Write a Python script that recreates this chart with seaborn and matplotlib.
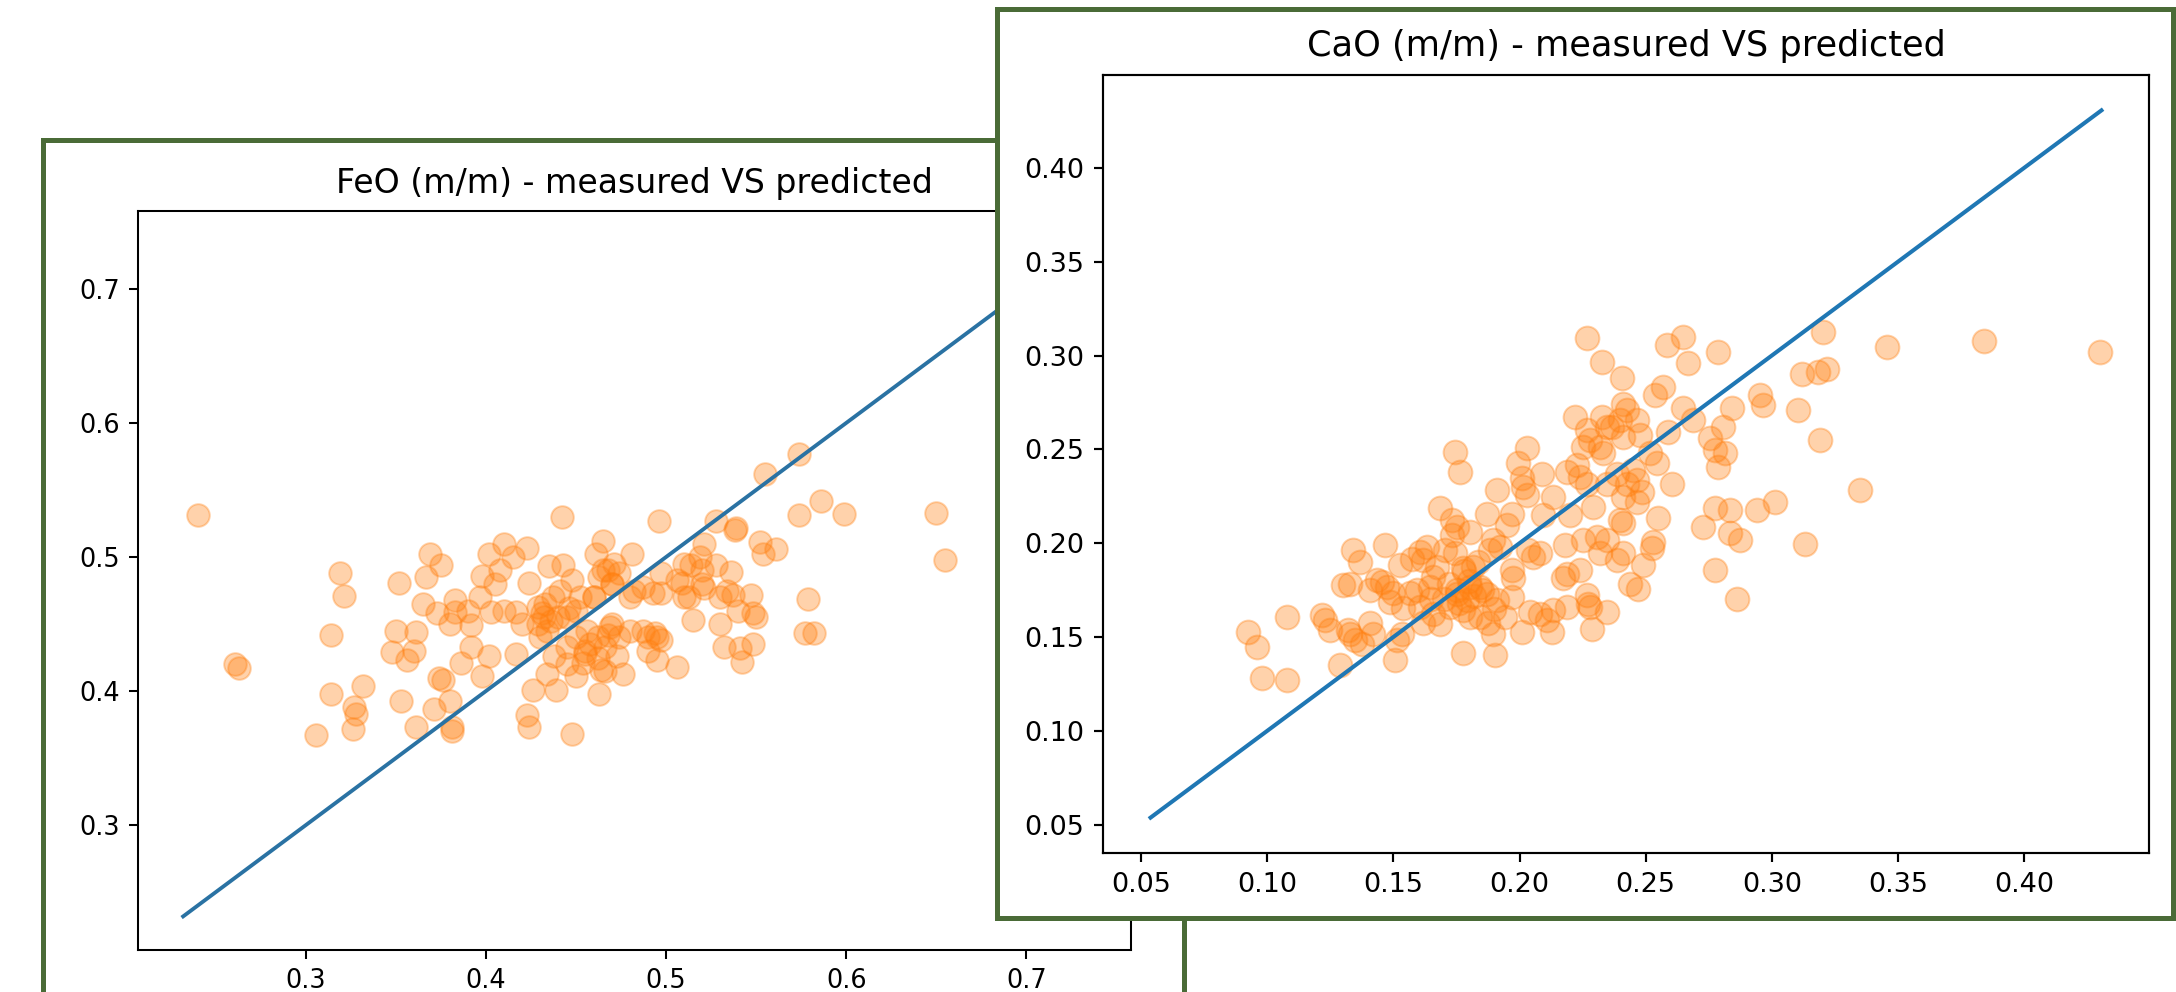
import numpy as np
import matplotlib
matplotlib.use("Agg")
import matplotlib.pyplot as plt
from matplotlib.patches import Rectangle
from matplotlib.ticker import MultipleLocator
import seaborn as sns

# FeO panel: measured vs predicted values
feo_measured = [
    0.240, 0.261, 0.263, 0.442,
    0.319, 0.321, 0.314, 0.314, 0.332, 0.327, 0.328, 0.326, 0.306,
    0.352, 0.353, 0.350, 0.348, 0.356, 0.361, 0.361,
    0.365, 0.369, 0.367, 0.375, 0.373, 0.383, 0.383,
    0.374, 0.376, 0.371, 0.380, 0.381, 0.381,
    0.392, 0.392, 0.386, 0.398, 0.397, 0.403, 0.402, 0.398,
    0.402, 0.410, 0.408, 0.415, 0.423, 0.417, 0.417, 0.424,
    0.434, 0.426, 0.423, 0.424, 0.435, 0.443,
    0.429, 0.432, 0.429, 0.434, 0.437, 0.441, 0.438, 0.439,
    0.448, 0.448, 0.445, 0.445, 0.450, 0.456, 0.458, 0.454,
    0.460, 0.463, 0.465, 0.461, 0.464, 0.463, 0.473, 0.476,
    0.471, 0.474, 0.481, 0.469, 0.474, 0.480, 0.482, 0.487, 0.487,
    0.431, 0.436, 0.462, 0.466, 0.468, 0.455, 0.470, 0.468, 0.452, 0.446,
    0.574, 0.555, 0.586, 0.574, 0.599, 0.650, 0.655,
    0.496, 0.528, 0.539, 0.538, 0.552, 0.561, 0.554,
    0.521, 0.519, 0.510, 0.528, 0.536, 0.497, 0.506,
    0.497, 0.493, 0.513, 0.521, 0.534, 0.537, 0.547,
    0.579, 0.577, 0.582, 0.548, 0.550, 0.515, 0.530,
    0.532, 0.541, 0.548, 0.542, 0.506, 0.495, 0.494, 0.497,
    # overlapping points in the dark centre of the cloud
    0.440, 0.450, 0.460, 0.470, 0.465, 0.455, 0.450, 0.445, 0.470, 0.480,
    0.490, 0.495, 0.490, 0.520, 0.520, 0.510, 0.530, 0.540, 0.430, 0.420,
    0.410, 0.405, 0.390, 0.380, 0.360, 0.466, 0.462, 0.433, 0.509, 0.514,
]
feo_predicted = [
    0.531, 0.420, 0.417, 0.530,
    0.488, 0.471, 0.442, 0.398, 0.404, 0.388, 0.383, 0.372, 0.367,
    0.481, 0.393, 0.445, 0.429, 0.423, 0.444, 0.373,
    0.465, 0.502, 0.485, 0.494, 0.458, 0.468, 0.459,
    0.410, 0.408, 0.387, 0.393, 0.373, 0.370,
    0.449, 0.433, 0.421, 0.486, 0.470, 0.459, 0.426, 0.411,
    0.502, 0.510, 0.490, 0.500, 0.507, 0.459, 0.428, 0.481,
    0.413, 0.401, 0.382, 0.373, 0.493, 0.494,
    0.463, 0.455, 0.450, 0.445, 0.470, 0.475, 0.426, 0.401,
    0.368, 0.483, 0.455, 0.433, 0.411, 0.445, 0.435, 0.421,
    0.470, 0.485, 0.512, 0.502, 0.416, 0.398, 0.426, 0.413,
    0.495, 0.488, 0.502, 0.448, 0.440, 0.445, 0.475, 0.478, 0.445,
    0.458, 0.452, 0.440, 0.433, 0.442, 0.428, 0.480, 0.490, 0.470, 0.462,
    0.577, 0.562, 0.542, 0.531, 0.532, 0.533, 0.498,
    0.527, 0.527, 0.522, 0.520, 0.511, 0.506, 0.502,
    0.510, 0.500, 0.495, 0.494, 0.489, 0.488, 0.483,
    0.473, 0.473, 0.470, 0.477, 0.475, 0.472, 0.472,
    0.469, 0.443, 0.443, 0.458, 0.455, 0.453, 0.450,
    0.433, 0.432, 0.435, 0.422, 0.418, 0.423, 0.443, 0.438,
    0.455, 0.460, 0.470, 0.480, 0.490, 0.430, 0.440, 0.420, 0.450, 0.470,
    0.440, 0.440, 0.430, 0.480, 0.490, 0.470, 0.470, 0.460, 0.440, 0.450,
    0.460, 0.480, 0.460, 0.450, 0.430, 0.415, 0.425, 0.465, 0.481, 0.494,
]
feo_line = [0.232, 0.733]

# CaO panel
cao_measured = [
    0.0925, 0.0958, 0.0978, 0.1077, 0.1077, 0.1215, 0.1229, 0.1249, 0.1288, 0.1301, 0.1328,
    0.1341, 0.1368, 0.1321, 0.1328, 0.1348, 0.1374, 0.1407, 0.1434, 0.1467, 0.1453, 0.1473,
    0.1500, 0.1486, 0.1513, 0.1533, 0.1506, 0.1407, 0.1420, 0.1526, 0.1572, 0.1605, 0.1566,
    0.1592, 0.1605, 0.1619, 0.1539, 0.1619, 0.1632,
    0.1777, 0.1903, 0.2009, 0.2127, 0.2286, 0.2345, 0.2279, 0.2187, 0.2134, 0.2081, 0.2108,
    0.2042, 0.1942, 0.1896, 0.1876, 0.1969, 0.1975, 0.1969, 0.2174, 0.2187, 0.2240, 0.2266,
    0.2273, 0.2180, 0.2253, 0.2306, 0.2345, 0.2319, 0.2385, 0.2412, 0.2398, 0.2412, 0.2438,
    0.2081, 0.2055, 0.2035, 0.1896, 0.1923, 0.1883, 0.1804, 0.1751, 0.1731, 0.1731, 0.1704,
    0.1744, 0.1817, 0.1777, 0.1837, 0.1671, 0.1658, 0.1645, 0.1658, 0.1685, 0.1751, 0.1724,
    0.1777, 0.1804, 0.1843, 0.1804, 0.1843, 0.1870, 0.1909, 0.1790, 0.1870, 0.1969, 0.1950,
    0.2094, 0.2200,
    0.2266, 0.2326, 0.2405, 0.2412, 0.2425, 0.2398, 0.2365, 0.2220, 0.2326, 0.2346, 0.2266,
    0.2280, 0.2253, 0.2319, 0.2332, 0.2412, 0.1744, 0.1764, 0.2028, 0.1995, 0.2008, 0.2015,
    0.2028, 0.2088, 0.1909, 0.2187, 0.2227, 0.2240, 0.2266, 0.2346, 0.2385, 0.2425, 0.2412,
    0.2134, 0.1685, 0.2293,
    0.2583, 0.2649, 0.2788, 0.2669, 0.3205, 0.3119, 0.3185, 0.3218, 0.2953, 0.2967, 0.2570,
    0.2537, 0.2649, 0.2689, 0.2841, 0.3105, 0.2808, 0.2755, 0.2590, 0.2464, 0.2478, 0.2775,
    0.2815, 0.2788, 0.3191, 0.2517, 0.2544, 0.2603, 0.2451, 0.2464, 0.2484, 0.2464, 0.2775,
    0.2835, 0.2940, 0.3013,
    0.2550, 0.2729, 0.2835, 0.2874, 0.3132, 0.2531, 0.2524, 0.2491, 0.2471, 0.2775, 0.2861,
    0.3458, 0.3842, 0.3350, 0.4300,
    # overlapping points in the dark centre of the cloud
    0.1750, 0.1800, 0.1850, 0.1700, 0.1760, 0.1820, 0.1780, 0.1900, 0.1650, 0.1720,
]
cao_predicted = [
    0.1527, 0.1447, 0.1279, 0.1607, 0.1270, 0.1616, 0.1590, 0.1536, 0.1350, 0.1776, 0.1785,
    0.1963, 0.1900, 0.1536, 0.1518, 0.1483, 0.1465, 0.1750, 0.1803, 0.1990, 0.1794, 0.1767,
    0.1732, 0.1687, 0.1483, 0.1518, 0.1376, 0.1572, 0.1518, 0.1883, 0.1918, 0.1954, 0.1732,
    0.1750, 0.1660, 0.1572, 0.1652, 0.1910, 0.1980,
    0.1412, 0.1403, 0.1527, 0.1527, 0.1545, 0.1634, 0.1660, 0.1660, 0.1643, 0.1625, 0.1590,
    0.1634, 0.1607, 0.1518, 0.1572, 0.1714, 0.1812, 0.1856, 0.1812, 0.1838, 0.1856, 0.1723,
    0.1678, 0.1990, 0.2016, 0.2034, 0.2016, 0.1945, 0.1910, 0.1945, 0.2123, 0.2105, 0.1785,
    0.1945, 0.1927, 0.1963, 0.2016, 0.1980, 0.1963, 0.2061, 0.2087, 0.2123, 0.2043, 0.1963,
    0.1945, 0.1874, 0.1865, 0.1900, 0.1874, 0.1820, 0.1767, 0.1625, 0.1570, 0.1730, 0.1660,
    0.1643, 0.1607, 0.1607, 0.1767, 0.1767, 0.1730, 0.1696, 0.1696, 0.2158, 0.2158, 0.2096,
    0.2150, 0.2150,
    0.3091, 0.2967, 0.2878, 0.2744, 0.2709, 0.2656, 0.2620, 0.2673, 0.2673, 0.2620, 0.2602,
    0.2549, 0.2513, 0.2513, 0.2478, 0.2567, 0.2487, 0.2380, 0.2505, 0.2425, 0.2345, 0.2300,
    0.2256, 0.2371, 0.2283, 0.2380, 0.2416, 0.2354, 0.2318, 0.2318, 0.2371, 0.2318, 0.2247,
    0.2247, 0.2185, 0.2194,
    0.3055, 0.3100, 0.3020, 0.2958, 0.3127, 0.2904, 0.2913, 0.2931, 0.2789, 0.2736, 0.2833,
    0.2789, 0.2718, 0.2656, 0.2718, 0.2709, 0.2620, 0.2558, 0.2593, 0.2656, 0.2575, 0.2496,
    0.2478, 0.2407, 0.2549, 0.2478, 0.2425, 0.2318, 0.2389, 0.2336, 0.2274, 0.2220, 0.2185,
    0.2176, 0.2176, 0.2220,
    0.2132, 0.2087, 0.2052, 0.2016, 0.1998, 0.2007, 0.1972, 0.1883, 0.1758, 0.1856, 0.1705,
    0.3047, 0.3079, 0.2283, 0.3020,
    0.1750, 0.1800, 0.1750, 0.1700, 0.1680, 0.1720, 0.1850, 0.1650, 0.1700, 0.1780,
]
cao_line = [0.0537, 0.4307]

W, H = 2176, 992
frame_green = "#4a6b37"
orange = "#ff7f0e"


def px_rect(x0, y0, x1, y1):
    # pixel box (top-left origin) -> figure fraction [left, bottom, width, height]
    return [x0 / W, (H - y1) / H, (x1 - x0) / W, (y1 - y0) / H]


def style_axes(ax, k, title, step):
    ax.set_title(title, fontsize=12 * k * 1.08, pad=6 * k + 2, color="black")
    ax.tick_params(labelsize=10 * k, length=3.5 * k, width=0.8 * k, pad=3.5 * k, colors="black")
    for sp in ax.spines.values():
        sp.set_linewidth(0.8 * k)
        sp.set_color("black")
    ax.xaxis.set_major_locator(MultipleLocator(step))
    ax.yaxis.set_major_locator(MultipleLocator(step))
    ax.set_xlabel("")
    ax.set_ylabel("")


fig = plt.figure(figsize=(W / 100, H / 100), dpi=100, facecolor="white")

# left card (FeO)
fig.patches.append(Rectangle((43 / W, -0.05), 1141 / W, (H - 140) / H + 0.05,
                             transform=fig.transFigure, facecolor="white",
                             edgecolor=frame_green, linewidth=3.6, zorder=1))
ax1 = fig.add_axes(px_rect(138, 211, 1131, 950))
ax1.set_zorder(2)
k1 = 1.84
sns.scatterplot(x=feo_measured, y=feo_predicted, ax=ax1, s=265, alpha=0.35,
                color=orange, edgecolor=orange, linewidth=1.4)
ax1.plot(feo_line, feo_line, color="#2a72a3", linewidth=1.5 * k1)
style_axes(ax1, k1, "FeO (m/m) - measured VS predicted", 0.1)

# right card (CaO) drawn over the left one
fig.patches.append(Rectangle((997 / W, (H - 918) / H), 1176 / W, 909 / H,
                             transform=fig.transFigure, facecolor="white",
                             edgecolor=frame_green, linewidth=3.6, zorder=3))
ax2 = fig.add_axes(px_rect(1103, 75, 2149, 853))
ax2.set_zorder(4)
k2 = 1.95
sns.scatterplot(x=cao_measured, y=cao_predicted, ax=ax2, s=295, alpha=0.35,
                color=orange, edgecolor=orange, linewidth=1.4)
ax2.plot(cao_line, cao_line, color="#1f77b4", linewidth=1.5 * k2)
style_axes(ax2, k2, "CaO (m/m) - measured VS predicted", 0.05)

fig.savefig("out.png", dpi=100, facecolor="white")
